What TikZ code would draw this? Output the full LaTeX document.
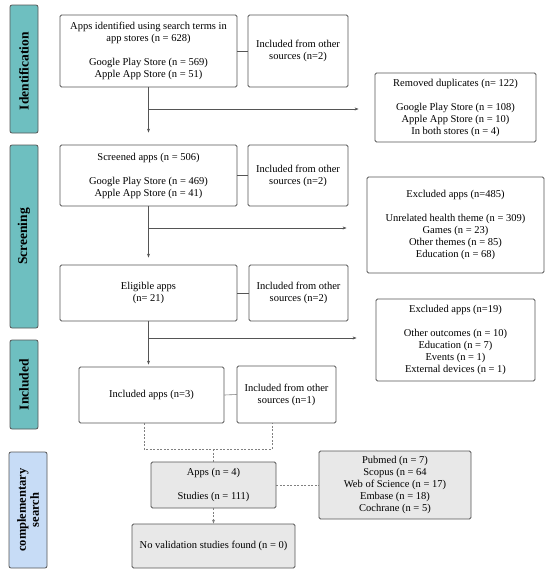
\documentclass[tikz,border=0pt]{standalone}
\usepackage{fontspec}
\setmainfont{Liberation Serif}
\usetikzlibrary{arrows.meta}
\definecolor{teal1}{HTML}{6EBFC0}
\definecolor{blue1}{HTML}{C7DCF6}
\definecolor{gray1}{HTML}{E8E8E8}
\definecolor{lc}{HTML}{555555}
\tikzset{
  box/.style={draw=lc, line width=0.8pt, rounded corners=1.5pt, fill=white, align=center, inner sep=2pt, font=\fontsize{10.5}{12}\selectfont},
  gbox/.style={box, fill=gray1},
  side/.style={draw=lc, line width=0.8pt, rounded corners=2pt, fill=teal1, inner sep=0pt},
  sidetext/.style={rotate=90, align=center, font=\fontsize{13.5}{14}\selectfont\bfseries},
  conn/.style={draw=lc, line width=0.7pt},
  arr/.style={conn, -{Stealth[length=4pt,width=3pt]}},
  dsh/.style={draw=gray, line width=0.7pt, dash pattern=on 2pt off 1.5pt},
}
\begin{document}
\begin{tikzpicture}[x=1pt,y=-1pt]
\useasboundingbox (0,0) rectangle (550,574);
% side labels
\node[side, minimum width=28pt, minimum height=128pt] (id) at (24,69) {};
\node[sidetext] at ([yshift=-2pt]id.center) {Identification};
\node[side, minimum width=28pt, minimum height=183pt] (scr) at (24,236.5) {};
\node[sidetext] at (scr.center) {Screening};
\node[side, minimum width=28pt, minimum height=89pt] (inc) at (24,384.5) {};
\node[sidetext] at (inc.center) {Included};
\node[side, fill=blue1, minimum width=38pt, minimum height=116pt] (comp) at (28,510) {};
\node[sidetext, font=\fontsize{12.5}{13}\selectfont\bfseries] at (comp.center) {complementary\\search};
% boxes
\node[box, minimum width=177pt, minimum height=72pt] (b1) at (148.5,51) {Apps identified using search terms in\\app stores (n = 628)\\[12pt]Google Play Store (n = 569)\\Apple App Store (n = 51)};
\node[box, minimum width=100pt, minimum height=72pt] (o1) at (298,51) {Included from other\\sources (n=2)};
\node[box, minimum width=161pt, minimum height=69pt] (dup) at (455.5,107.5) {Removed duplicates (n= 122)\\[12pt]Google Play Store (n = 108)\\Apple App Store (n = 10)\\In both stores (n = 4)};
\node[box, minimum width=177pt, minimum height=61pt] (b2) at (148.5,175.5) {Screened apps (n = 506)\\[12pt]Google Play Store (n = 469)\\Apple App Store (n = 41)};
\node[box, minimum width=100pt, minimum height=61pt] (o2) at (298,175.5) {Included from other\\sources (n=2)};
\node[box, minimum width=177pt, minimum height=96pt] (ex1) at (455.5,225) {Excluded apps (n=485)\\[12pt]Unrelated health theme (n = 309)\\Games (n = 23)\\Other themes (n = 85)\\Education (n = 68)};
\node[box, minimum width=177pt, minimum height=56pt] (b3) at (148.5,293) {Eligible apps\\(n= 21)};
\node[box, minimum width=99pt, minimum height=56pt] (o3) at (298.5,293) {Included from other\\sources (n=2)};
\node[box, minimum width=159pt, minimum height=82pt] (ex2) at (455.5,340) {Excluded apps (n=19)\\[12pt]Other outcomes (n = 10)\\Education (n = 7)\\Events (n = 1)\\External devices (n = 1)};
\node[box, minimum width=145pt, minimum height=56pt] (b4) at (151.5,395) {Included apps (n=3)};
\node[box, minimum width=99pt, minimum height=57pt] (o4) at (286.5,394.5) {Included from other\\sources (n=1)};
\node[gbox, minimum width=125pt, minimum height=46pt] (apps) at (213.5,485) {Apps (n = 4)\\[12pt]Studies (n = 111)};
\node[gbox, minimum width=152pt, minimum height=68pt] (db) at (395,485) {Pubmed (n = 7)\\Scopus (n = 64\\Web of Science (n = 17)\\Embase (n = 18)\\Cochrane (n = 5)};
\node[gbox, minimum width=163pt, minimum height=44pt] (nv) at (213.5,546) {No validation studies found (n = 0)};
% connectors
\draw[conn] (b1.east) -- (o1.west);
\draw[conn] (b2.east) -- (o2.west);
\draw[conn] (b3.east) -- (o3.west);
\draw[draw=gray, line width=0.6pt] (b4.east) -- (o4.west);
\coordinate (j1) at (148.5,109);
\coordinate (j2) at (148.5,228);
\coordinate (j3) at (148.5,338);
\draw[arr, shorten >=12pt] (b1.south) -- (b2.north);
\draw[arr, shorten >=7pt] (b2.south) -- (b3.north);
\draw[arr, shorten >=2pt] (b3.south) -- (b3.south |- b4.north);
\draw[arr, shorten >=16pt] (j1) -- (j1 -| dup.west);
\draw[arr, shorten >=20pt] (j2) -- (j2 -| ex1.west);
\draw[arr, shorten >=19pt] (j3) -- (j3 -| ex2.west);
\coordinate (d1) at (144,449);
\coordinate (d2) at (272,449);
\draw[dsh] (d1 |- b4.south) -- (d1) -- (d2) -- (d2 |- o4.south);
\draw[dsh] (apps.north |- d1) -- (apps.north);
\draw[dsh] (apps.east) -- (db.west);
\draw[dsh, -{Stealth[length=4pt,width=3pt]}] (apps.south) -- (nv.north);
\end{tikzpicture}
\end{document}
